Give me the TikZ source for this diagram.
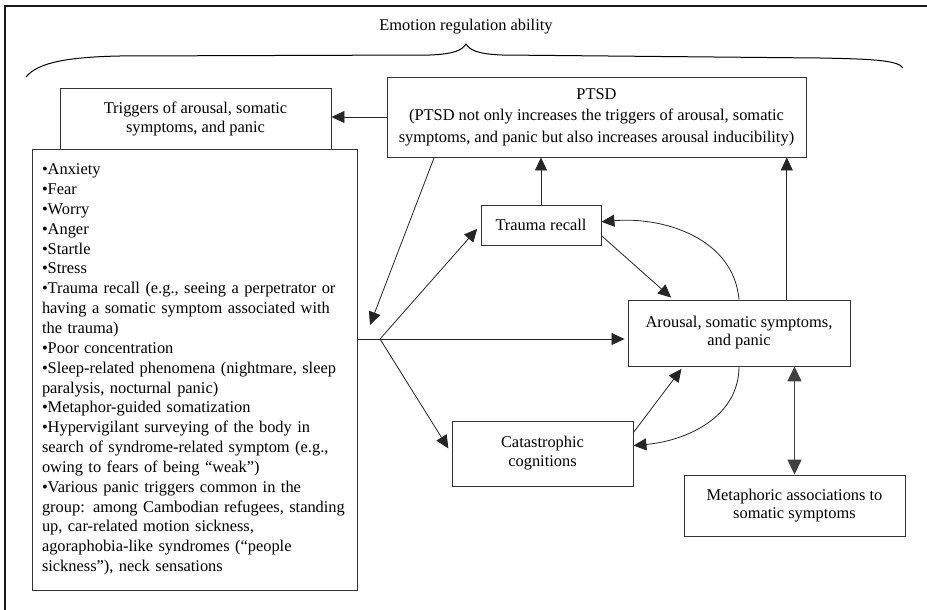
\documentclass[tikz,border=0pt]{standalone}
\usepackage{fontspec}
\setmainfont{Liberation Serif}
\usetikzlibrary{arrows.meta}
\tikzset{>={Triangle[length=13pt,width=12pt]}}

\begin{document}
\begin{tikzpicture}[x=1pt,y=-1pt,
squarednode/.style={rectangle, draw=black!80, line width=0.9pt, fill=white, align=center, inner sep=0pt, font=\fontsize{16.4}{19}\selectfont},
link/.style={->, line width=0.8pt, draw=black!85},
]
\useasboundingbox (0,0) rectangle (927,610);

%Frame and brace
\draw[line width=2pt, black!90] (5,615) -- (5,6) -- (935,6);
\node[font=\fontsize{16.4}{19}\selectfont] (Title) at (466,27) {Emotion regulation ability};
\draw[line width=1pt] (26,77) .. controls (38,62) and (70,57) .. (120,56) -- (430,55)
  .. controls (455,54) and (462,50) .. (466,44) .. controls (470,50) and (477,54) .. (502,55)
  -- (820,58) .. controls (870,59) and (898,60) .. (903,68);

%Nodes
\node[squarednode, minimum width=271pt, minimum height=62pt] (Triggers) at (195.5,119) {Triggers of arousal, somatic\\symptoms, and panic};
\node[squarednode, minimum width=325pt, minimum height=441pt, text width=305pt, align=left, font=\fontsize{16.4}{19.85}\selectfont] (Sources) at (194.5,369.5) {%
•Anxiety\\
•Fear\\
•Worry\\
•Anger\\
•Startle\\
•Stress\\
•Trauma recall (e.g., seeing a perpetrator or\\
having a somatic symptom associated with\\
the trauma)\\
•Poor concentration\\
•Sleep-related phenomena (nightmare, sleep\\
paralysis, nocturnal panic)\\
•Metaphor-guided somatization\\
•Hypervigilant surveying of the body in\\
search of syndrome-related symptom (e.g.,\\
owing to fears of being “weak”)\\
•Various panic triggers common in the\\
group: among Cambodian refugees, standing\\
up, car-related motion sickness,\\
agoraphobia-like syndromes (“people\\
sickness”), neck sensations};
\node[squarednode, minimum width=419pt, minimum height=80pt, font=\fontsize{16.4}{21.5}\selectfont] (PTSD) at (596.5,117) {PTSD\\(PTSD not only increases the triggers of arousal, somatic\\symptoms, and panic but also increases arousal inducibility)};
\node[squarednode, minimum width=120pt, minimum height=40pt] (TraumaRecall) at (541,225) {Trauma recall};
\node[squarednode, minimum width=222pt, minimum height=66pt, font=\fontsize{16.4}{18}\selectfont] (Arousal) at (739,333) {Arousal, somatic symptoms,\\and panic};
\node[squarednode, minimum width=181pt, minimum height=65pt] (Catastrophic) at (542.5,453.5) {Catastrophic\\cognitions};
\node[squarednode, minimum width=221pt, minimum height=61pt, font=\fontsize{16.4}{18}\selectfont] (Metaphoric) at (794.5,505.5) {Metaphoric associations to\\somatic symptoms};
\coordinate (Hub) at (380,339);
\coordinate (HubIn) at (370,325);

%Lines
\draw[link] (PTSD.west) -- (PTSD.west -| Triggers.east);
\draw[line width=0.8pt, black!85] (Hub -| Sources.east) -- (Hub);
\draw[link, shorten >=5pt] (Hub) -- (TraumaRecall.west);
\draw[link, shorten >=3pt] (Hub) -- (Hub -| Arousal.west);
\draw[link, shorten >=6pt] (Hub) -- (Catastrophic.west);
\draw[link] (PTSD.194) -- (HubIn);
\draw[link] (TraumaRecall.north) -- (TraumaRecall.north |- PTSD.south);
\draw[link, shorten >=3pt] (TraumaRecall.-10) -- (Arousal.153);
\draw[link] (Arousal.north) to[out=95, in=5] (TraumaRecall.3);
\draw[link] (Arousal.35) -- (Arousal.35 |- PTSD.south);
\draw[link, shorten >=3pt] (Catastrophic.13) -- (Arousal.211);
\draw[link] (Arousal.south) to[out=-90, in=5] (Catastrophic.5);
\draw[{Triangle[length=15pt,width=14pt]}-{Triangle[length=15pt,width=14pt]}, line width=1.4pt, black!75] (Arousal.south -| Metaphoric.north) -- (Metaphoric.north);
\end{tikzpicture}
\end{document}
